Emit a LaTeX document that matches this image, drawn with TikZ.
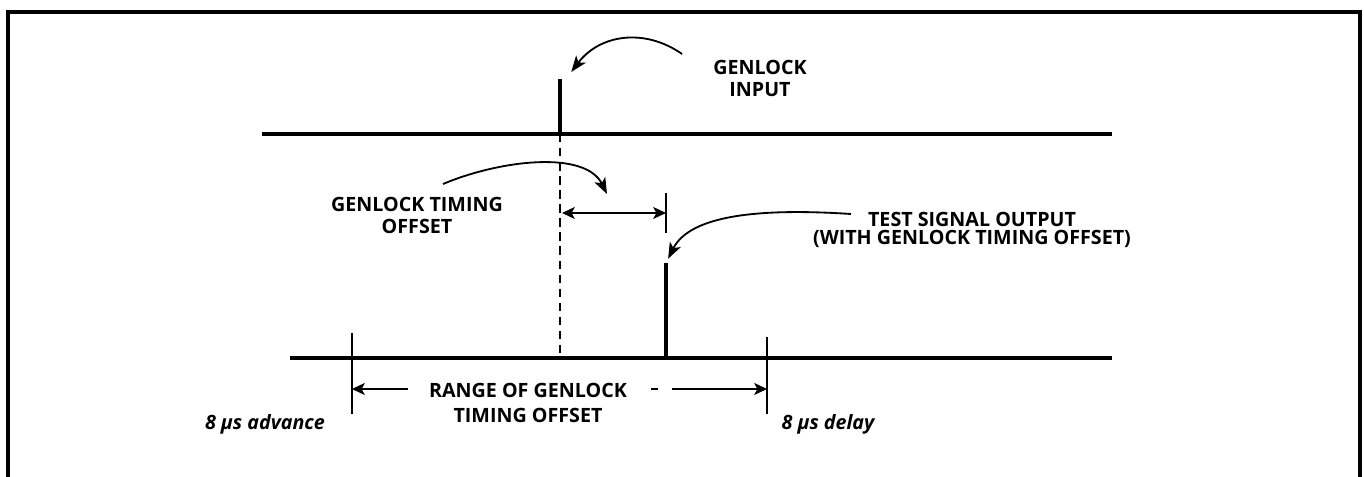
\documentclass[tikz,border=0pt]{standalone}
\usepackage{fontspec}
\setmainfont{Open Sans}
\usetikzlibrary{arrows.meta, positioning}
\tikzset{
  every picture/.style={x=0.025cm, y=-0.025cm, line width=1pt},
  frame/.style={line width=3pt},
  trace/.style={line width=2.8pt},
  pulse/.style={line width=3.2pt},
  tickmark/.style={line width=1.1pt},
  tag/.style={font=\fontsize{14}{15.6}\selectfont\bfseries, align=center, inner sep=1pt},
  timetag/.style={font=\fontsize{14}{16}\selectfont\bfseries\itshape, inner sep=1pt},
  callout/.style={-{Stealth[length=4mm, width=3mm, inset=1mm]}, line width=1.3pt},
  dimline/.style={-{Stealth[length=3.2mm, width=3mm, inset=0.8mm]}, line width=1.2pt},
}
\begin{document}
\begin{tikzpicture}
  \useasboundingbox (0,0) rectangle (1364,477);
  % open frame
  \draw[frame] (8,477) -- (8,12) -- (1360,12) -- (1360,477);
  % traces
  \coordinate (inL) at (262,134);
  \coordinate (inR) at (1112,134);
  \coordinate (outL) at (290,358);
  \coordinate (outR) at (1112,358);
  \draw[trace] (inL) -- (inR);
  \draw[trace] (outL) -- (outR);
  % pulses
  \coordinate (inbase) at (560,134);
  \coordinate (intop) at (560,79);
  \coordinate (outbase) at (666,358);
  \coordinate (outtop) at (666,263);
  \draw[pulse] (inbase) -- (intop);
  \draw[pulse] (outbase) -- (outtop);
  \draw[tickmark, line width=1.3pt, dash pattern=on 6pt off 4pt] (inbase) -- (inbase |- outL);
  % offset dimension
  \coordinate (offtop) at (666,193);
  \coordinate (offbot) at (666,233);
  \coordinate (offL) at (562,213);
  \draw[tickmark] (offtop) -- (offbot);
  \draw[{Stealth[length=3.2mm, width=3mm, inset=0.8mm]}-{Stealth[length=3.2mm, width=3mm, inset=0.8mm]}, line width=1.2pt] (offL) -- (offL -| offtop);
  % range ticks
  \coordinate (advtop) at (352,333);
  \coordinate (advbot) at (352,414);
  \coordinate (dlytop) at (767,337);
  \coordinate (dlybot) at (767,414);
  \draw[tickmark] (advtop) -- (advbot);
  \draw[tickmark] (dlytop) -- (dlybot);
  % labels
  \node[tag] (gin) at (760,78) {GENLOCK\\INPUT};
  \node[tag] (gto) at (417,215) {GENLOCK TIMING\\OFFSET};
  \node[tag, font=\fontsize{14}{12.5}\selectfont\bfseries] (tso) at (972,230) {TEST SIGNAL OUTPUT\\(WITH GENLOCK TIMING OFFSET)};
  \node[tag, font=\fontsize{14}{17.5}\selectfont\bfseries] (rng) at (528,403) {RANGE OF GENLOCK\\TIMING OFFSET};
  \node[timetag] (adv) at (265,424) {8 μs advance};
  \node[timetag] (dly) at (828,424) {8 μs delay};
  % callouts
  \coordinate (ginfrom) at (682,54);
  \coordinate (gtofrom) at (443,184);
  \coordinate (gtoto) at (607,194);
  \coordinate (tsofrom) at (851,214);
  \draw[callout] (ginfrom) .. controls (645,28) and (600,34) .. ([xshift=8pt, yshift=5pt]intop);
  \draw[callout] (gtofrom) .. controls (500,160) and (585,150) .. (gtoto);
  \draw[callout] (tsofrom) .. controls (760,208) and (690,215) .. ([xshift=1.5pt, yshift=3pt]outtop);
  % range arrows
  \coordinate (rngA) at (408,389);
  \coordinate (rngB) at (672,389);
  \draw[dimline] (rngA) -- (rngA -| advtop);
  \draw[line width=1.2pt] (651,389) -- (658,389);
  \draw[dimline] (rngB) -- (rngB -| dlytop);
\end{tikzpicture}
\end{document}
